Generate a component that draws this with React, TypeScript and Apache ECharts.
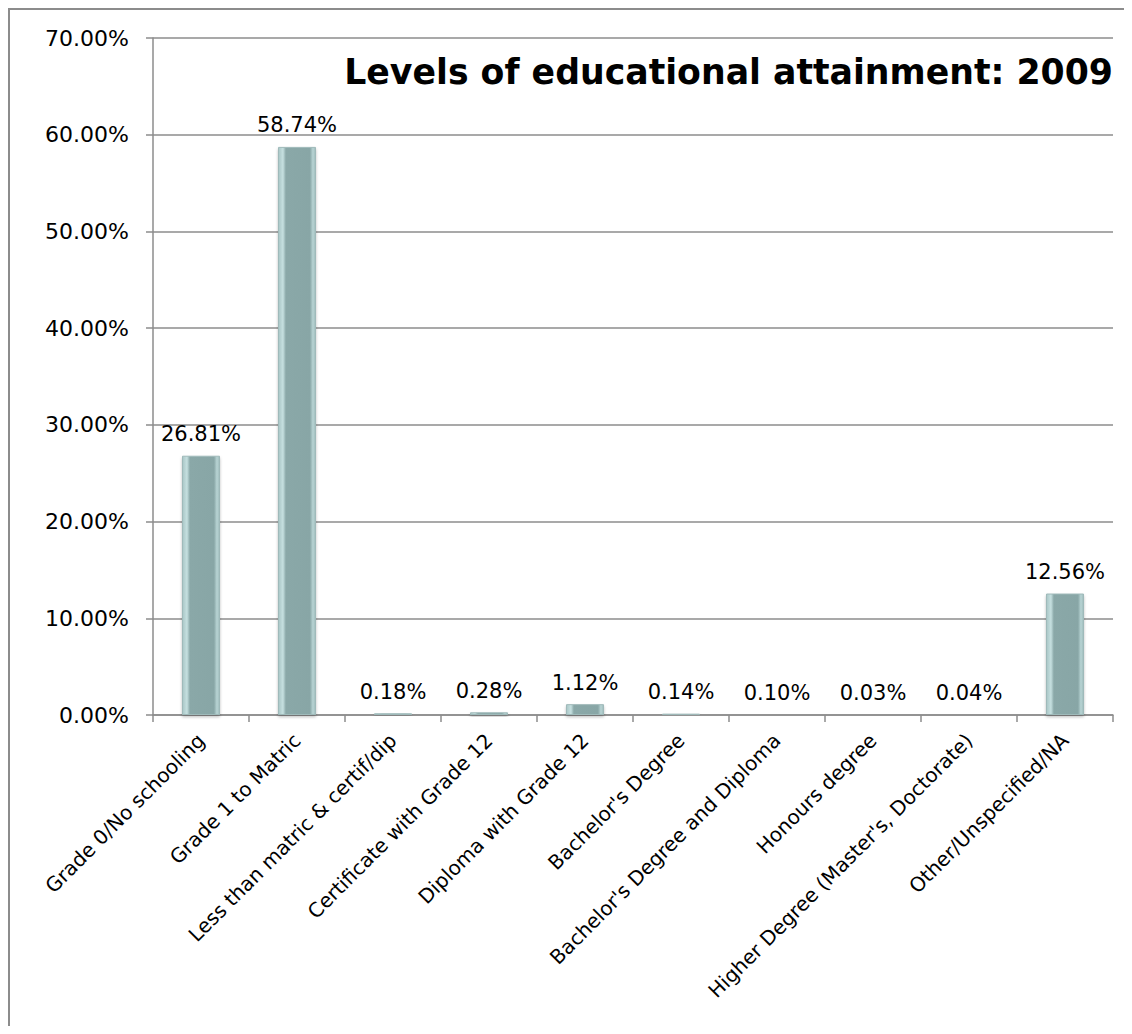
import React, { useEffect, useRef } from "react";
import * as echarts from "echarts";

const categories = [
  "Grade 0/No schooling",
  "Grade 1 to Matric",
  "Less than matric & certif/dip",
  "Certificate with Grade 12",
  "Diploma with Grade 12",
  "Bachelor's Degree",
  "Bachelor's Degree and Diploma",
  "Honours degree",
  "Higher Degree (Master's, Doctorate)",
  "Other/Unspecified/NA",
];
const values = [26.81, 58.74, 0.18, 0.28, 1.12, 0.14, 0.1, 0.03, 0.04, 12.56];
const titleText = "Levels of educational attainment: 2009";

const FONT = "'DejaVu Sans', sans-serif";

export default function App() {
  const ref = useRef<HTMLDivElement>(null);
  useEffect(() => {
    if (!ref.current) return;
    const chart = echarts.init(ref.current, null, { renderer: "svg" });
    chart.setOption({
      animation: false,
      backgroundColor: "#ffffff",
      graphic: [
        {
          type: "text",
          right: 19,
          top: 44,
          style: {
            text: titleText,
            font: `bold 34.7px ${FONT}`,
            fill: "#000",
          },
        },
      ],
      grid: { left: 143, top: 28, right: 19, bottom: 311, containLabel: false },
      xAxis: {
        type: "category",
        data: categories,
        axisLine: { lineStyle: { color: "#8c8c8c", width: 1.5 } },
        axisTick: { show: true, alignWithLabel: false, length: 7, lineStyle: { color: "#8c8c8c", width: 1.5 } },
        axisLabel: {
          rotate: 45,
          interval: 0,
          margin: 22,
          color: "#000",
          fontSize: 20,
          fontFamily: FONT,
        },
      },
      yAxis: {
        type: "value",
        min: 0,
        max: 70,
        interval: 10,
        axisLine: { show: true, lineStyle: { color: "#8c8c8c", width: 1.5 } },
        axisTick: { show: true, length: 7, lineStyle: { color: "#8c8c8c", width: 1.5 } },
        splitLine: { lineStyle: { color: "#8c8c8c", width: 1.5 } },
        axisLabel: {
          margin: 24,
          color: "#000",
          fontSize: 22,
          fontFamily: FONT,
          formatter: (v: number) => v.toFixed(2) + "%",
        },
      },
      series: [
        {
          type: "bar",
          data: values,
          barWidth: 38,
          itemStyle: {
            color: new echarts.graphic.LinearGradient(0, 0, 1, 0, [
              { offset: 0, color: "#a9c6c6" },
              { offset: 0.12, color: "#c6e0e0" },
              { offset: 0.2, color: "#8aa8a8" },
              { offset: 0.85, color: "#88a6a6" },
              { offset: 0.93, color: "#b8d4d4" },
              { offset: 1, color: "#9fbcbc" },
            ]),
            borderColor: "#9fbaba",
            borderWidth: 1,
            shadowColor: "rgba(0,0,0,0.25)",
            shadowBlur: 3,
            shadowOffsetY: 2,
          },
          label: {
            show: true,
            position: "top",
            distance: 11,
            color: "#000",
            fontSize: 21,
            fontFamily: FONT,
            formatter: (p: any) => Number(p.value).toFixed(2) + "%",
          },
        },
      ],
    });
    return () => chart.dispose();
  }, []);
  return (
    <div
      style={{
        width: 1124,
        height: 1018,
        borderLeft: "2px solid #8c8c8c",
        borderTop: "2px solid #8c8c8c",
        boxSizing: "border-box",
      }}
    >
      <div ref={ref} style={{ width: 1122, height: 1016 }} />
    </div>
  );
}
